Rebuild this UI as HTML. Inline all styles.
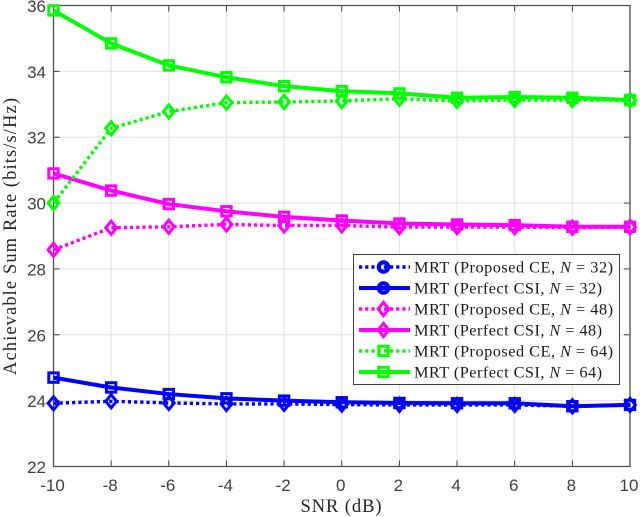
<!DOCTYPE html>
<html>
<head>
<meta charset="utf-8">
<style>
html,body{margin:0;padding:0;background:#fff;}
svg{display:block;}
.tick{font-family:"Liberation Sans",sans-serif;font-size:17px;fill:#404040;}
.lab{font-family:"Liberation Serif",serif;font-size:18.5px;fill:#262626;}
.leg{font-family:"Liberation Serif",serif;font-size:16.3px;fill:#1a1a1a;}
</style>
</head>
<body>
<svg id="chart" width="640" height="517" viewBox="0 0 640 517" xmlns="http://www.w3.org/2000/svg"></svg>
<script>
const snrValues = [-10, -8, -6, -4, -2, 0, 2, 4, 6, 8, 10];
const xTickLabels = [-10, -8, -6, -4, -2, 0, 2, 4, 6, 8, 10];
const yTickLabels = [22, 24, 26, 28, 30, 32, 34, 36];
const ceN32 = [23.92, 23.98, 23.93, 23.90, 23.90, 23.88, 23.87, 23.87, 23.87, 23.83, 23.87];
const csiN32 = [24.70, 24.40, 24.20, 24.07, 24.00, 23.95, 23.93, 23.92, 23.92, 23.83, 23.87];
const ceN48 = [28.58, 29.25, 29.28, 29.35, 29.32, 29.32, 29.27, 29.27, 29.27, 29.25, 29.27];
const csiN48 = [30.90, 30.38, 29.97, 29.75, 29.58, 29.47, 29.38, 29.35, 29.33, 29.28, 29.28];
const ceN64 = [30.00, 32.27, 32.78, 33.05, 33.07, 33.10, 33.17, 33.10, 33.13, 33.13, 33.12];
const csiN64 = [35.85, 34.85, 34.18, 33.82, 33.55, 33.40, 33.33, 33.20, 33.22, 33.20, 33.13];
const seriesValues = [ceN32, csiN32, ceN48, csiN48, ceN64, csiN64];
const seriesNames = ['n32-proposed-ce', 'n32-perfect-csi', 'n48-proposed-ce', 'n48-perfect-csi', 'n64-proposed-ce', 'n64-perfect-csi'];
const legendMethods = ['MRT (Proposed CE, ', 'MRT (Perfect CSI, ', 'MRT (Proposed CE, ', 'MRT (Perfect CSI, ', 'MRT (Proposed CE, ', 'MRT (Perfect CSI, '];
const legendAntennas = ['32', '32', '48', '48', '64', '64'];

const seriesColor = ['#0000ff', '#0000ff', '#ff00ff', '#ff00ff', '#00ff00', '#00ff00'];
const plotL = 53.5, plotR = 630, plotT = 5.5, plotB = 466.5;
const xMin = -10, xMax = 10, yMin = 22, yMax = 36;
const NS = 'http://www.w3.org/2000/svg';
const svg = document.getElementById('chart');

function xScale(v) { return plotL + (v - xMin) / (xMax - xMin) * (plotR - plotL); }
function yScale(v) { return plotB - (v - yMin) / (yMax - yMin) * (plotB - plotT); }
function make(tag, attrs, parent) {
  const el = document.createElementNS(NS, tag);
  for (const k in attrs) el.setAttribute(k, attrs[k]);
  (parent || svg).appendChild(el);
  return el;
}
function drawMarker(kind, x, y, color, parent) {
  let el;
  if (kind === 'diamond') {
    el = make('polygon', {points: (x - 5.4) + ',' + y + ' ' + x + ',' + (y - 6.6) + ' ' + (x + 5.4) + ',' + y + ' ' + x + ',' + (y + 6.6), fill: 'none', stroke: color, 'stroke-width': 3}, parent);
  } else if (kind === 'square') {
    el = make('rect', {x: x - 4.7, y: y - 4.7, width: 9.4, height: 9.4, fill: 'none', stroke: color, 'stroke-width': 3}, parent);
  } else {
    el = make('circle', {cx: x, cy: y, r: 4.7, fill: 'none', stroke: color, 'stroke-width': 4.2}, parent);
  }
  return el;
}

/* grid */
const grid = make('g', {stroke: '#e4e4e4', 'stroke-width': 1.1, fill: 'none'});


xTickLabels.forEach(function (t) {
  const gl = make('line', {x1: xScale(t), x2: xScale(t), y1: plotT, y2: plotB}, grid);
  
  
});
yTickLabels.forEach(function (t) {
  const gl = make('line', {x1: plotL, x2: plotR, y1: yScale(t), y2: yScale(t)}, grid);
  
  
});

/* ticks */
const ticks = make('g', {stroke: '#404040', 'stroke-width': 1, fill: 'none'});


xTickLabels.forEach(function (t) {
  make('line', {x1: xScale(t), x2: xScale(t), y1: plotB, y2: plotB - 6}, ticks);
  make('line', {x1: xScale(t), x2: xScale(t), y1: plotT, y2: plotT + 6}, ticks);
  const lab = make('text', {x: xScale(t) - 1, y: 491, 'text-anchor': 'middle', class: 'tick'});
  lab.textContent = t;
  
  
});
yTickLabels.forEach(function (t) {
  make('line', {x1: plotL, x2: plotL + 6, y1: yScale(t), y2: yScale(t)}, ticks);
  make('line', {x1: plotR, x2: plotR - 6, y1: yScale(t), y2: yScale(t)}, ticks);
  const lab = make('text', {x: 46, y: yScale(t) + 6.5, 'text-anchor': 'end', class: 'tick'});
  lab.textContent = t;
  
  
});

/* axes box */
const box = make('path', {d: 'M' + plotL + ' ' + plotB + 'V' + plotT + 'H' + plotR + 'V' + plotB + 'Z', fill: 'none', stroke: '#505050', 'stroke-width': 1.3});



/* series */
seriesValues.forEach(function (vals, i) {
  const dotted = i % 2 === 0;
  const g = make('g', {});
  
  
  const pts = vals.map(function (v, j) { return xScale(snrValues[j]) + ',' + yScale(v); }).join(' ');
  const line = make('polyline', {points: pts, fill: 'none', stroke: seriesColor[i], 'stroke-width': dotted ? 3.4 : 4, 'stroke-dasharray': dotted ? '3.2 3' : 'none', 'stroke-linejoin': 'round'}, g);
  
  
  vals.forEach(function (v, j) {
    const m = drawMarker(dotted ? 'diamond' : 'square', xScale(snrValues[j]), yScale(v), seriesColor[i], g);
    
    
  });
});

/* axis titles */
const xTitle = make('text', {x: 341, y: 512, 'text-anchor': 'middle', class: 'lab', textLength: 81});
xTitle.textContent = 'SNR (dB)';


const yTitle = make('text', {transform: 'translate(16 236.5) rotate(-90)', 'text-anchor': 'middle', class: 'lab', textLength: 277});
yTitle.textContent = 'Achievable Sum Rate (bits/s/Hz)';



/* legend */
const legend = make('g', {});


make('rect', {x: 353.5, y: 254.5, width: 266, height: 130, fill: '#fff', stroke: '#404040', 'stroke-width': 1}, legend);
const legendMarkers = ['circle', 'circle', 'diamond', 'diamond', 'square', 'square'];
seriesNames.forEach(function (name, i) {
  const rowY = 267 + i * 21;
  const dotted = i % 2 === 0;
  const entry = make('g', {}, legend);
  
  
  make('line', {x1: 359, x2: 410, y1: rowY, y2: rowY, stroke: seriesColor[i], 'stroke-width': dotted ? 3.4 : 4, 'stroke-dasharray': dotted ? '3.2 3' : 'none'}, entry);
  drawMarker(legendMarkers[i], 383.5, rowY, seriesColor[i], entry);
  const t = make('text', {x: 414, y: rowY + 5.5, class: 'leg', textLength: dotted ? 199 : 188}, entry);
  t.appendChild(document.createTextNode(legendMethods[i]));
  const n = make('tspan', {'font-style': 'italic'}, t);
  n.textContent = 'N';
  t.appendChild(document.createTextNode(' = ' + legendAntennas[i] + ')'));
});
</script>
</body>
</html>
